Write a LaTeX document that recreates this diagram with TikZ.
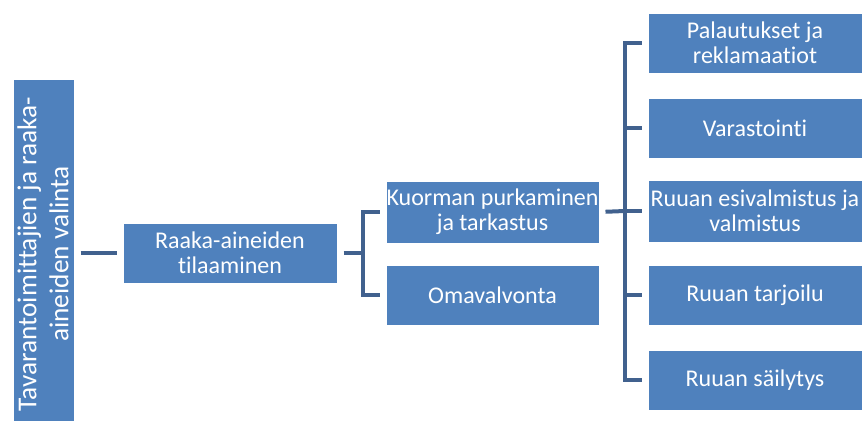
\documentclass[tikz,border=0pt]{standalone}
\usepackage{fontspec}
\setmainfont{Carlito}[Ligatures={NoCommon}]
\definecolor{boxblue}{HTML}{4F81BD}
\definecolor{linkblue}{HTML}{41618E}
\begin{document}
\begin{tikzpicture}[x=0.75pt,y=-0.75pt,
  box/.style={fill=boxblue, draw=white, line width=0.75pt, text=white,
    inner sep=0pt, align=center, font=\fontsize{18}{19}\selectfont},
  link/.style={draw=linkblue, line width=3pt, shorten <=4.5pt, shorten >=4.5pt}]
\useasboundingbox (0,0) rectangle (864,421);
\clip (0,0) rectangle (864,421);

% level 0: vertical box
\node[box, minimum width=0.75pt*61, minimum height=0.75pt*350] (L) at (43.5,254) {};
\node[text=white, rotate=90, align=center, font=\fontsize{20.5}{24}\selectfont]
  (Ltext) at (43,254) {Tavarantoimittajien ja raaka-\\aineiden valinta};

% level 1
\node[box, minimum width=0.75pt*214, minimum height=0.75pt*60] (raaka) at (230,253)
  {Raaka-aineiden\\tilaaminen};

% level 2
\node[box, minimum width=0.75pt*213, minimum height=0.75pt*62] (kuorma) at (492.5,212)
  {Kuorman purkaminen\\ja tarkastus};
\node[box, minimum width=0.75pt*213, minimum height=0.75pt*60] (oma) at (492.5,295)
  {Omavalvonta};

% level 3
\node[box, minimum width=0.75pt*214, minimum height=0.75pt*60] (pal) at (755,43)
  {Palautukset ja\\reklamaatiot};
\node[box, minimum width=0.75pt*214, minimum height=0.75pt*60] (var) at (755,128)
  {Varastointi};
\node[box, minimum width=0.75pt*214, minimum height=0.75pt*62] (esi) at (755,211)
  {Ruuan esivalmistus ja\\valmistus};
\node[box, minimum width=0.75pt*214, minimum height=0.75pt*60] (tarj) at (755,295)
  {Ruuan tarjoilu};
\node[box, minimum width=0.75pt*214, minimum height=0.75pt*60] (sail) at (755,380)
  {Ruuan säilytys};

% branch points
\coordinate (b1) at (363,253);
\coordinate (b2) at (625,211);

% connectors
\draw[link] (L.east |- raaka.west) -- (raaka.west);
\draw[link, shorten >=0pt] (raaka.east) -- (b1);
\draw[link] (kuorma.west) -| (b1) |- (oma.west);
\draw[link, shorten >=0pt] (kuorma.east) -- (b2);
\draw[link] (pal.west) -| (b2) |- (sail.west);
\draw[link, shorten <=0pt] (b2 |- var.west) -- (var.west);
\draw[link, shorten <=0pt] (b2 |- esi.west) -- (esi.west);
\draw[link, shorten <=0pt] (b2 |- tarj.west) -- (tarj.west);
\end{tikzpicture}
\end{document}
